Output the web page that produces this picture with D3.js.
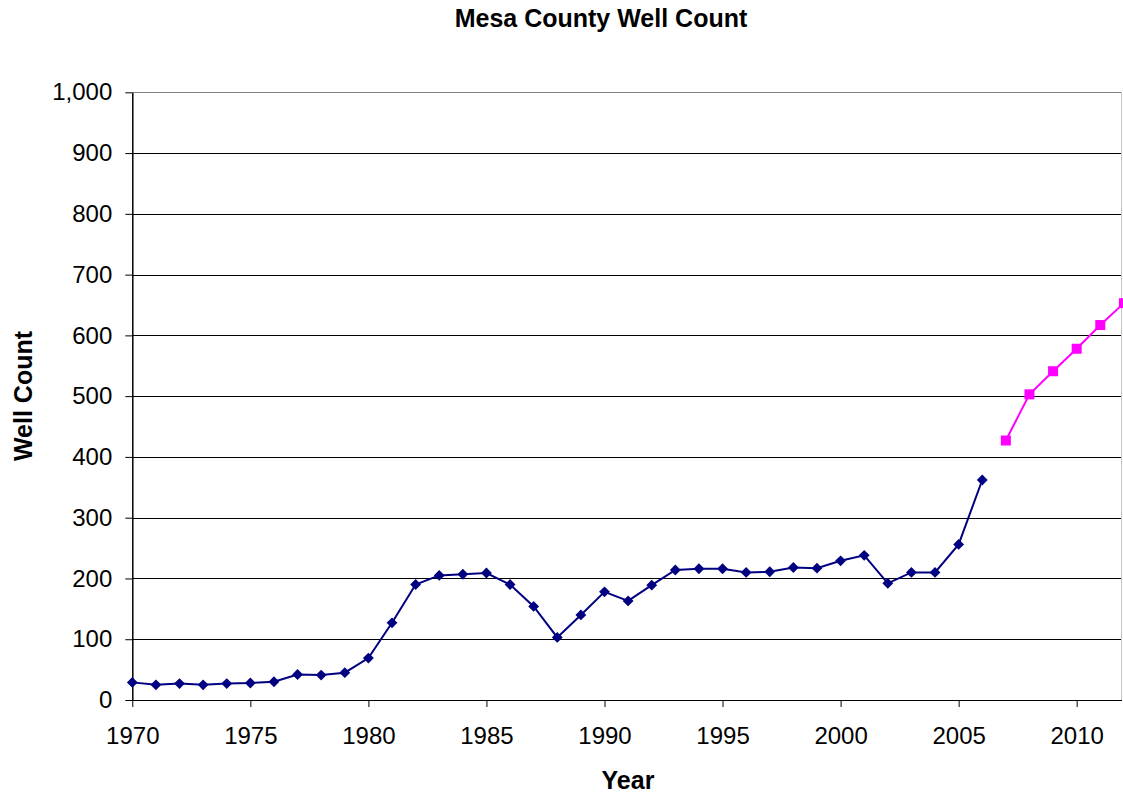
<!DOCTYPE html>
<html>
<head>
<meta charset="utf-8">
<script src="https://cdn.jsdelivr.net/npm/d3@7"></script>
<style>
  html, body { margin: 0; padding: 0; background: #fff; }
  svg { display: block; font-family: "Liberation Sans", Arial, sans-serif; }
</style>
</head>
<body>
<svg id="chart" width="1123" height="794"></svg>
<script>
// Recorded well counts, 1970-2006
const histYears = [1970,1971,1972,1973,1974,1975,1976,1977,1978,1979,1980,1981,1982,1983,1984,1985,1986,1987,1988,1989,1990,1991,1992,1993,1994,1995,1996,1997,1998,1999,2000,2001,2002,2003,2004,2005,2006];
const histCounts = [29,25,27,25,27,28,30,42,41,45,69,127,190,205,207,209,190,154,103,140,178,163,189,214,216,216,210,211,218,217,229,238,192,210,210,256,362];

// Projected well counts, 2007-2012
const projYears = [2007,2008,2009,2010,2011,2012];
const projCounts = [427,503,541,578,617,653];

const xTickYears = [1970,1975,1980,1985,1990,1995,2000,2005,2010];
const yTickValues = [0,100,200,300,400,500,600,700,800,900,1000];

const svg = d3.select("#chart");
const plotLeft = 132.3, plotRight = 1123.9, plotTop = 92.3, plotBottom = 700;

const x = d3.scaleLinear().domain([1970, 2012]).range([plotLeft, plotRight]);
const y = d3.scaleLinear().domain([0, 1000]).range([plotBottom, plotTop]);

// horizontal gridlines
svg.append("g")
  .selectAll("line")
  .data(yTickValues.filter(v => v > 0))
  .join("line")
  .attr("x1", plotLeft).attr("x2", 1122)
  .attr("y1", d => Math.round(y(d)) + 0.5).attr("y2", d => Math.round(y(d)) + 0.5)
  .attr("stroke", d => d === 1000 ? "#808080" : "#000")
  .attr("stroke-width", 1);

// faint right border of the plot area
svg.append("line")
  .attr("x1", 1121.5).attr("x2", 1121.5)
  .attr("y1", Math.round(plotTop)).attr("y2", plotBottom)
  .attr("stroke", "#c8c8c8").attr("stroke-width", 1);

// x axis
const xAxis = d3.axisBottom(x)
  .tickValues(xTickYears)
  .tickFormat(d3.format("d"))
  .tickSize(7)
  .tickSizeOuter(0)
  .tickPadding(20);
const gx = svg.append("g")
  .attr("transform", `translate(0,${plotBottom})`)
  .call(xAxis);
gx.select(".domain").attr("d", `M${plotLeft},0.5H1122`).attr("stroke", "#000").attr("stroke-width", 1.2);
gx.selectAll(".tick line").attr("stroke", "#000");
gx.selectAll(".tick text")
  .attr("font-size", 24).attr("fill", "#000")
  .attr("font-family", "Liberation Sans, Arial, sans-serif");

// y axis
const yAxis = d3.axisLeft(y)
  .tickValues(yTickValues)
  .tickFormat(d3.format(","))
  .tickSize(7)
  .tickSizeOuter(0)
  .tickPadding(13);
const gy = svg.append("g")
  .attr("transform", `translate(${plotLeft},0)`)
  .call(yAxis);
gy.select(".domain").attr("stroke", "#000").attr("stroke-width", 1.5);
gy.selectAll(".tick line").attr("stroke", "#000");
gy.selectAll(".tick text")
  .attr("font-size", 24).attr("fill", "#000")
  .attr("font-family", "Liberation Sans, Arial, sans-serif");

// series
const hist = histYears.map((yr, i) => ({ yr, v: histCounts[i] }));
const proj = projYears.map((yr, i) => ({ yr, v: projCounts[i] }));
const line = d3.line().x(d => x(d.yr)).y(d => y(d.v));

svg.append("path").datum(hist)
  .attr("d", line).attr("fill", "none")
  .attr("stroke", "#000080").attr("stroke-width", 2);
svg.append("g").selectAll("path")
  .data(hist).join("path")
  .attr("d", d3.symbol(d3.symbolDiamond2, 75))
  .attr("transform", d => `translate(${x(d.yr)},${y(d.v)})`)
  .attr("fill", "#000080");

svg.append("path").datum(proj)
  .attr("d", line).attr("fill", "none")
  .attr("stroke", "#FF00FF").attr("stroke-width", 2);
svg.append("g").selectAll("rect")
  .data(proj).join("rect")
  .attr("x", d => x(d.yr) - 5).attr("y", d => y(d.v) - 5)
  .attr("width", 10).attr("height", 10)
  .attr("fill", "#FF00FF");

// titles
svg.append("text")
  .attr("x", 601).attr("y", 27)
  .attr("text-anchor", "middle")
  .attr("font-size", 25).attr("font-weight", "bold")
  .text("Mesa County Well Count");

svg.append("text")
  .attr("x", 628).attr("y", 789)
  .attr("text-anchor", "middle")
  .attr("font-size", 25).attr("font-weight", "bold")
  .text("Year");

svg.append("text")
  .attr("transform", "translate(32,396) rotate(-90)")
  .attr("text-anchor", "middle")
  .attr("font-size", 25).attr("font-weight", "bold")
  .text("Well Count");
</script>
</body>
</html>
